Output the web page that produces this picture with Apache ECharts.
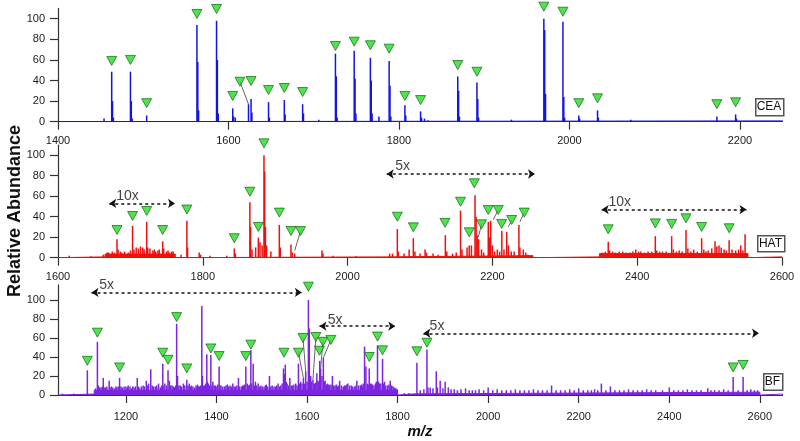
<!DOCTYPE html>
<html><head><meta charset="utf-8">
<script src="https://cdn.jsdelivr.net/npm/echarts@6.0.0/dist/echarts.min.js"></script>
<style>html,body{margin:0;padding:0;background:#fff}#c{width:800px;height:441px}</style>
</head><body><div id="c"></div>
<script>
// ---------- tick labels ----------
const ceaTicks = [1400,1600,1800,2000,2200];
const hatTicks = [1600,1800,2000,2200,2400,2600];
const bfTicks = [1200,1400,1600,1800,2000,2200,2400,2600];
const yTicks = [0,20,40,60,80,100];
const sampleNames = ['CEA','HAT','BF'];

// ---------- CEA ----------
const ceaPeaks = [[1454,3],[1463,48.5],[1464,20],[1465,4],[1485,48.5],[1486,20],[1487,3],[1504,6],
[1563,94],[1564,58],[1565,11],[1586,98],[1587,60],[1588,8],[1605,13],[1606,5],[1608,4],[1623.5,17],
[1626.5,22],[1627.5,9],[1647,19],[1648,4],[1665.5,21],[1666.5,7],[1687,17],[1688,8],[1706,2],
[1725.5,66],[1726.5,44],[1727.5,4],[1747.5,69],[1748.5,42],[1749.5,8],[1766.5,62],[1767.5,40],[1768.5,8],
[1776.5,5],[1788.5,59],[1789.5,35],[1790.5,5],[1807,16],[1808,6],[1825.4,10],[1826.5,4],[1830,3],[1834,1.5],
[1869,44],[1870,30],[1871,5],[1891.5,38],[1892.5,22],[1893.5,4],[1932,2],[1970,100],[1971,89],[1972,27],
[1992.4,97],[1993.4,24],[1994.4,4],[2011,6],[2012,3],[2033,11],[2034,4],[2072,2],[2173,5],[2195,7],[2196,3]];
const ceaBase = [[1400,2250,0.8]];
const ceaMarkers = [[1463,59],[1485,60],[1504,18],[1563,104.6],[1586,109.4],[1605,25],[1613.5,38.8],
[1626.5,39.5],[1647,30.8],[1665.5,32.7],[1687,28.8],[1725.5,73.5],[1747.5,77.7],[1766.5,74.2],[1788.5,70.9],
[1807,25],[1825.4,21],[1869,55],[1891.5,48.5],[1970,111.7],[1992.4,106.8],[2011,18],[2033,22.7],[2173,17],[2195,18.8]];
const ceaLeaders = [[1613.5,38.8,1623.5,17]];
const ceaArrows = [];
const ceaArrowText = [];

// ---------- HAT ----------
const hatPeaks = [[1615.6,2],[1645.6,1.5],[1662.6,3],[1668,5],[1670,5],[1675,6],[1678,5],[1681.5,18],[1683,8],[1686,6],[1688,5],[1692,6],
[1697,5],[1700,7],[1703,31],[1705,8],[1708,10],[1711,9],[1714,11],[1717,10],[1719,8],[1722.5,35],[1724,10],[1727,9],
[1731,7],[1733,8],[1735,6],[1738,7],[1740,8],[1744.6,16],[1746,9],[1750,6],[1752,7],[1754,5],[1757,6],[1759,6],[1770,3],[1778,36],[1779,10],
[1795,5],[1797,3],[1810,2],[1833,2],[1843.5,9],[1845,4],[1865,54],[1866,30],[1868,8],[1873,10],[1876.7,19.5],
[1879,15],[1882,12],[1884.5,100],[1885.5,84],[1886.5,30],[1888,12],[1894,6],[1905.7,32],[1907,10],
[1921.8,13],[1923.5,5],[1927,4],[1964.6,7],[1966,4],[1980,2],[2012,1.5],
[2058,4],[2062,4],[2068.7,28],[2070,6],[2078,4],[2085,8],[2090.8,19],[2093,6],[2100,4],[2107,8],[2109,5],[2118,4],[2125,3],[2135,22],[2137,6],[2145,4],
[2150,5],[2156,46],[2158,8],[2165,10],[2168,12],[2171,12],[2176,61],[2177.5,40],[2179,22],[2181,18],[2185,8],[2188,5],
[2194.3,35],[2196,20],[2197.6,36],[2200,12],[2203,6],[2206.8,8],[2210,6],[2213,26],[2216,8],[2219.8,25],[2222,12],[2226,6],[2230,6],
[2236.6,32],[2238,10],[2242.7,8],[2246,5],[2249,3],
[2352,5],[2356,6],[2360,15.6],[2362,7],[2366,6],[2370,5],[2375,6],[2380,6],[2385,5],[2390,5],[2394,6],[2398,8],[2402,6],[2405,6],[2410,5],[2415,6],[2420,6],[2425,21],[2427,7],[2431,6],[2435,6],
[2440,6],[2447.6,21],[2450,8],[2454,6],[2458,7],[2462,6],[2467.4,27],[2470,9],[2474,6],[2478,8],[2483,6],[2489,19],[2492,8],[2495,6],[2498,7],[2503,9],[2507.5,16],
[2510,11],[2513,12],[2516,10],[2520,8],[2523,7],[2527,17],[2531,8],[2536,7],[2540,8],[2543,12],[2546,7],[2549,23]];
const hatBase = [[1600,1665,0.8],[1665,1762,3.5],[1762,2050,0.8],[2050,2256,2],[2256,2348,0.8],[2348,2553,4],[2553,2600,0.8]];
const hatMarkers = [[1681.5,27],[1703,40.7],[1722.5,45.6],[1744.6,27],[1778,47],[1843.5,19],[1865,64.4],
[1876.7,30],[1884.5,111.6],[1905.7,44],[1921.8,26],[1935,26],[2068.7,40],[2090.8,29.6],[2134.5,34],
[2156,54.6],[2168,24.8],[2175,72.6],[2185,32.6],[2194.3,46.5],[2208,46.5],[2212.8,33],[2226.6,36.8],
[2244,44],[2360,27.7],[2425,33.5],[2447.6,33],[2467.4,38.4],[2489,30],[2527,28.7]];
const hatLeaders = [[1935,26,1927,7],[2185,32.6,2180.5,20],[2208,46.5,2201,37],[2226.6,36.8,2222,30],[2244,44,2238,35]];
const hatArrows = [[1670.8,1761.6,53],[2054,2258.8,81.7],[2351,2551,47]];
const hatArrowText = [[1696,60,'10x'],[2076,89,'5x'],[2376,54,'10x']];

// ---------- BF ----------
const bfPeaks = [[1060,1.5],[1085,1.5],[1114.8,26],[1133,7],[1137,56],[1139,10],[1142,8],[1145,8],[1148,9],[1150,18],[1152,8],[1155,8],[1158,9],[1163,15],
[1165,8],[1168,9],[1171,8],[1175,7],[1178,9],[1180,8],[1183,9],[1186,18],[1189,9],[1192,8],[1196,9],[1200,9],[1203,8],[1205,10],[1209,9],[1212,7],[1215,9],[1218,8],[1221,9],[1225,18],[1228,9],[1230,7],[1234,9],[1238,10],
[1241,9],[1245,15],[1247,10],[1250,12],[1254.8,27],[1258,10],[1261,9],[1265,9],[1268,10],[1272,12],[1276,8],[1279,10],[1281.4,33],[1284,10],[1286,12],[1290,10],[1293,26],[1296,15],
[1299,10],[1302,10],[1305,9],[1307,8],[1310,10],[1312,75],[1314,20],[1317,10],[1320,10],[1323,9],[1327,12],[1330,10],[1334.4,16],[1337,10],[1340,12],[1343,9],[1345,10],[1348,9],[1352,8],[1355,10],[1358,11],
[1360,9],[1362,9],[1365,10],[1367.6,93.7],[1369,20],[1371,10],[1374,10],[1376,12],[1378.6,43],[1380,14],[1382,12],[1385,10],[1387.5,42],[1390,10],[1392,14],[1395,10],[1398,10],[1401,9],[1403,11],[1405.8,30],
[1408,10],[1410,10],[1414,9],[1418,9],[1421,10],[1424,11],[1427,9],[1430,10],[1433,9],[1436,12],[1439,9],[1442,9],[1445,10],[1448.5,18],[1451,9],[1455,9],[1458,10],[1460,10],[1462,11],[1464.8,30],[1468,12],
[1471,10],[1473,11],[1475.9,47],[1478,12],[1481,33],[1484,10],[1486,14],[1489,10],[1492,12],[1495,9],[1498,10],[1501,9],[1505,9],[1508,10],[1510,11],[1513,9],[1517,20],[1520,9],[1523,10],[1527,9],[1530,9],[1533,10],[1536,12],
[1539,9],[1542,10],[1545,12],[1548,28],[1550,22],[1552,32],[1554,14],[1556,12],[1559,10],[1562,18],[1565,10],[1568,10],[1571,11],[1575,12],[1578,10],[1581,33],[1583,12],[1586,14],[1589,12],[1592,18],[1594,12],[1597,25],[1600,14],
[1603,100],[1605,70],[1608,20],[1610,14],[1613,16],[1615,12],[1617,12],[1619,13],[1621.6,23],[1624,15],[1626,14],[1628,36],[1630,28],[1633,20],[1636,39],
[1638,14],[1640,15],[1643,11],[1645,12],[1648,11],[1650,10],[1653,11],[1656,20],[1659,10],[1662,10],[1665,11],[1667,9],[1670,10],[1672,15],[1676,10],[1680,9],[1683,10],[1685,10],[1688,11],[1690,12],[1694,10],[1698,10],
[1701,9],[1705,9],[1708,10],[1710,15],[1714,10],[1718,10],[1720,11],[1722,9],[1724,12],[1727,51],[1730,30],[1733,12],[1735,11],[1737.3,28],[1740,12],[1742,12],[1745,11],[1748,10],[1751,12],[1753,14],[1755.6,52],[1758,14],[1760,12],
[1763,12],[1766.7,38],[1769,12],[1771,14],[1774,10],[1778,10],[1781,11],[1783.7,15],[1787,10],[1790,9],[1793,8],[1796,7],[1799,6],[1815,2],[1825,2],
[1842.6,34],[1850,5],[1858,6],[1864.8,48],[1867,8],[1872,8],[1878,7],[1885.4,25],[1888,8],[1894,15],[1900,7],[1905,14],[1912,8],[1918,6],[1925,6],[1932,5],[1940,6],
[1950,7],[1958,5],[1965,5],[1972,5],[1980,6],[1990,5],[2000,8],[2010,5],[2020,6],[2030,5],[2040,5],[2050,5],[2060,6],[2070,5],[2080,5],[2090,5],[2100,6],[2110,5],[2120,5],[2130,5],[2140,10],[2150,5],[2160,5],
[2170,5],[2180,6],[2190,5],[2200,7],[2210,5],[2220,5],[2228,5],[2235,6],[2242,5],[2250,12],[2260,5],[2270,9],[2280,5],[2290,5],[2300,5],[2310,6],[2320,5],[2330,5],[2340,5],[2350,6],[2360,5],[2370,5],[2385,5],[2400,8],
[2410,5],[2420,5],[2430,5],[2440,6],[2450,5],[2460,5],[2470,5],[2485,7],[2492,5],[2500,5],[2510,5],[2520,6],[2530,5],[2541,19],[2552,5],[2563,19],[2572,5],[2580,6],[2588,5],[2595,5]];
const bfBase = [[1050,1130,1],[1130,1800,5],[1800,1838,1.2],[1838,2600,3],[2600,2650,1]];
const bfMarkers = [[1114.8,36],[1137,65.6],[1186,29],[1281.4,44.5],[1293,37],[1312,82],[1334.4,28],[1387.5,49],
[1405.8,41],[1464.8,41],[1475.9,53],[1549,44.5],[1581,44.5],[1591,60],[1603,114],[1619.5,61],[1627.5,46.6],
[1635,56],[1652.6,58],[1737.5,40],[1755.6,61.5],[1766.7,47],[1842.6,46],[1864.8,55],[2541,29],[2563,31.6]];
const bfLeaders = [[1581,44.5,1592,18],[1591,60,1597,25],[1619.5,61,1613,16],[1635,56,1630,28],[1652.6,58,1636,39]];
const bfArrows = [[1124,1588.5,108],[1627.5,1794.8,72.5],[1857,2598,65]];
const bfArrowText = [[1157.6,115.8,'5x'],[1662,79,'5x'],[1887,72,'5x']];

// ---------- build ----------
const FONT = 'Liberation Sans, Arial, sans-serif';
const panels = [
  {color:'#1414e0', peaks:ceaPeaks, base:ceaBase, markers:ceaMarkers, leaders:ceaLeaders, arrows:ceaArrows, text:ceaArrowText},
  {color:'#ee1010', peaks:hatPeaks, base:hatBase, markers:hatMarkers, leaders:hatLeaders, arrows:hatArrows, text:hatArrowText},
  {color:'#7c24e0', peaks:bfPeaks, base:bfBase, markers:bfMarkers, leaders:bfLeaders, arrows:bfArrows, text:bfArrowText}
];
const series = [];
panels.forEach((p, i) => {
  const baseData = [];
  p.base.forEach(([a,b,l]) => { baseData.push([a,0],[a,l],[b,l],[b,0]); });
  series.push({type:'line', xAxisIndex:i, yAxisIndex:i, data:baseData, showSymbol:false, silent:true,
    lineStyle:{color:p.color, width:1}, areaStyle:{color:p.color, opacity:1}, z:2});
  series.push({type:'bar', xAxisIndex:i, yAxisIndex:i, data:p.peaks, barWidth:1.5, silent:true,
    itemStyle:{color:p.color}, z:3});
  series.push({type:'lines', coordinateSystem:'cartesian2d', xAxisIndex:i, yAxisIndex:i, silent:true,
    data:p.leaders.map(l => ({coords:[[l[0],l[1]],[l[2],l[3]]]})), symbol:'none',
    lineStyle:{color:'#555', width:0.9, opacity:1}, z:4});
  series.push({type:'lines', coordinateSystem:'cartesian2d', xAxisIndex:i, yAxisIndex:i, silent:true,
    data:p.arrows.map(a => ({coords:[[a[0],a[2]],[a[1],a[2]]]})), symbol:['arrow','arrow'], symbolSize:7,
    lineStyle:{color:'#111', width:1.5, type:[3,3], opacity:1}, z:5});
  series.push({type:'scatter', xAxisIndex:i, yAxisIndex:i, silent:true, clip:false,
    data:p.text.map(t => ({value:[t[0],t[1]], name:t[2]})), symbolSize:1, itemStyle:{color:'rgba(0,0,0,0)'},
    label:{show:true, position:'inside', formatter:'{b}', fontSize:14, color:'#111', fontFamily:FONT}, z:6});
  series.push({type:'scatter', xAxisIndex:i, yAxisIndex:i, silent:true, clip:false, data:p.markers,
    symbol:'triangle', symbolRotate:180, symbolSize:[10,9],
    itemStyle:{color:'#22dd22', borderColor:'#156615', borderWidth:0.9}, z:7});
});

const grids = [
  {left:58, width:724.5, top:8.4, height:113.3},
  {left:58, width:724, top:145, height:112.7},
  {left:58, width:724.5, top:284.8, height:110.2}
];
const xr = [[1400,2250,ceaTicks,14],[1600,2600,hatTicks,14],[1050,2650,bfTicks,16]];
const plain = v => String(v);
const xAxis = xr.map((r, i) => ({gridIndex:i, type:'value', min:r[0], max:r[1],
  axisLine:{show:true, lineStyle:{color:'#333', width:1.2}},
  axisTick:{show:true, customValues:r[2], length:8, lineStyle:{color:'#333', width:1.2}},
  axisLabel:{customValues:r[2], margin:r[3], fontSize:11, color:'#1a1a1a', fontFamily:FONT, formatter:plain},
  splitLine:{show:false}}));
const ymax = [110, 110, 116];
const yAxis = ymax.map((m, i) => ({gridIndex:i, type:'value', min:0, max:m,
  axisLine:{show:true, lineStyle:{color:'#333', width:1.2}},
  axisTick:{show:true, customValues:yTicks, length:8, lineStyle:{color:'#333', width:1.2}},
  axisLabel:{customValues:yTicks, margin:13, fontSize:11, color:'#1a1a1a', fontFamily:FONT, formatter:plain},
  splitLine:{show:false}}));

const boxes = [[755,98,28,17],[757,235,27,16],[763,373,19,16.5]];
const graphic = [];
boxes.forEach((b, i) => {
  graphic.push({type:'rect', left:b[0], top:b[1], shape:{width:b[2], height:b[3]},
    style:{fill:'#fff', stroke:'#555', lineWidth:1.5}, z:10});
  graphic.push({type:'text', x:b[0]+b[2]/2, y:b[1]+b[3]/2+0.5,
    style:{text:sampleNames[i], font:'12px ' + FONT, fill:'#111', align:'center', verticalAlign:'middle'}, z:11});
});
graphic.push({type:'text', x:15, y:211, rotation:Math.PI/2,
  style:{text:'Relative Abundance', font:'bold 18px ' + FONT, fill:'#111', align:'center', verticalAlign:'middle'}});
graphic.push({type:'text', x:420, y:432,
  style:{text:'m/z', font:'italic bold 15px ' + FONT, fill:'#111', align:'center', verticalAlign:'middle'}});

const chart = echarts.init(document.getElementById('c'), null, {renderer:'canvas'});
chart.setOption({animation:false, backgroundColor:'#fff', grid:grids, xAxis, yAxis, series, graphic});
</script>
</body></html>
